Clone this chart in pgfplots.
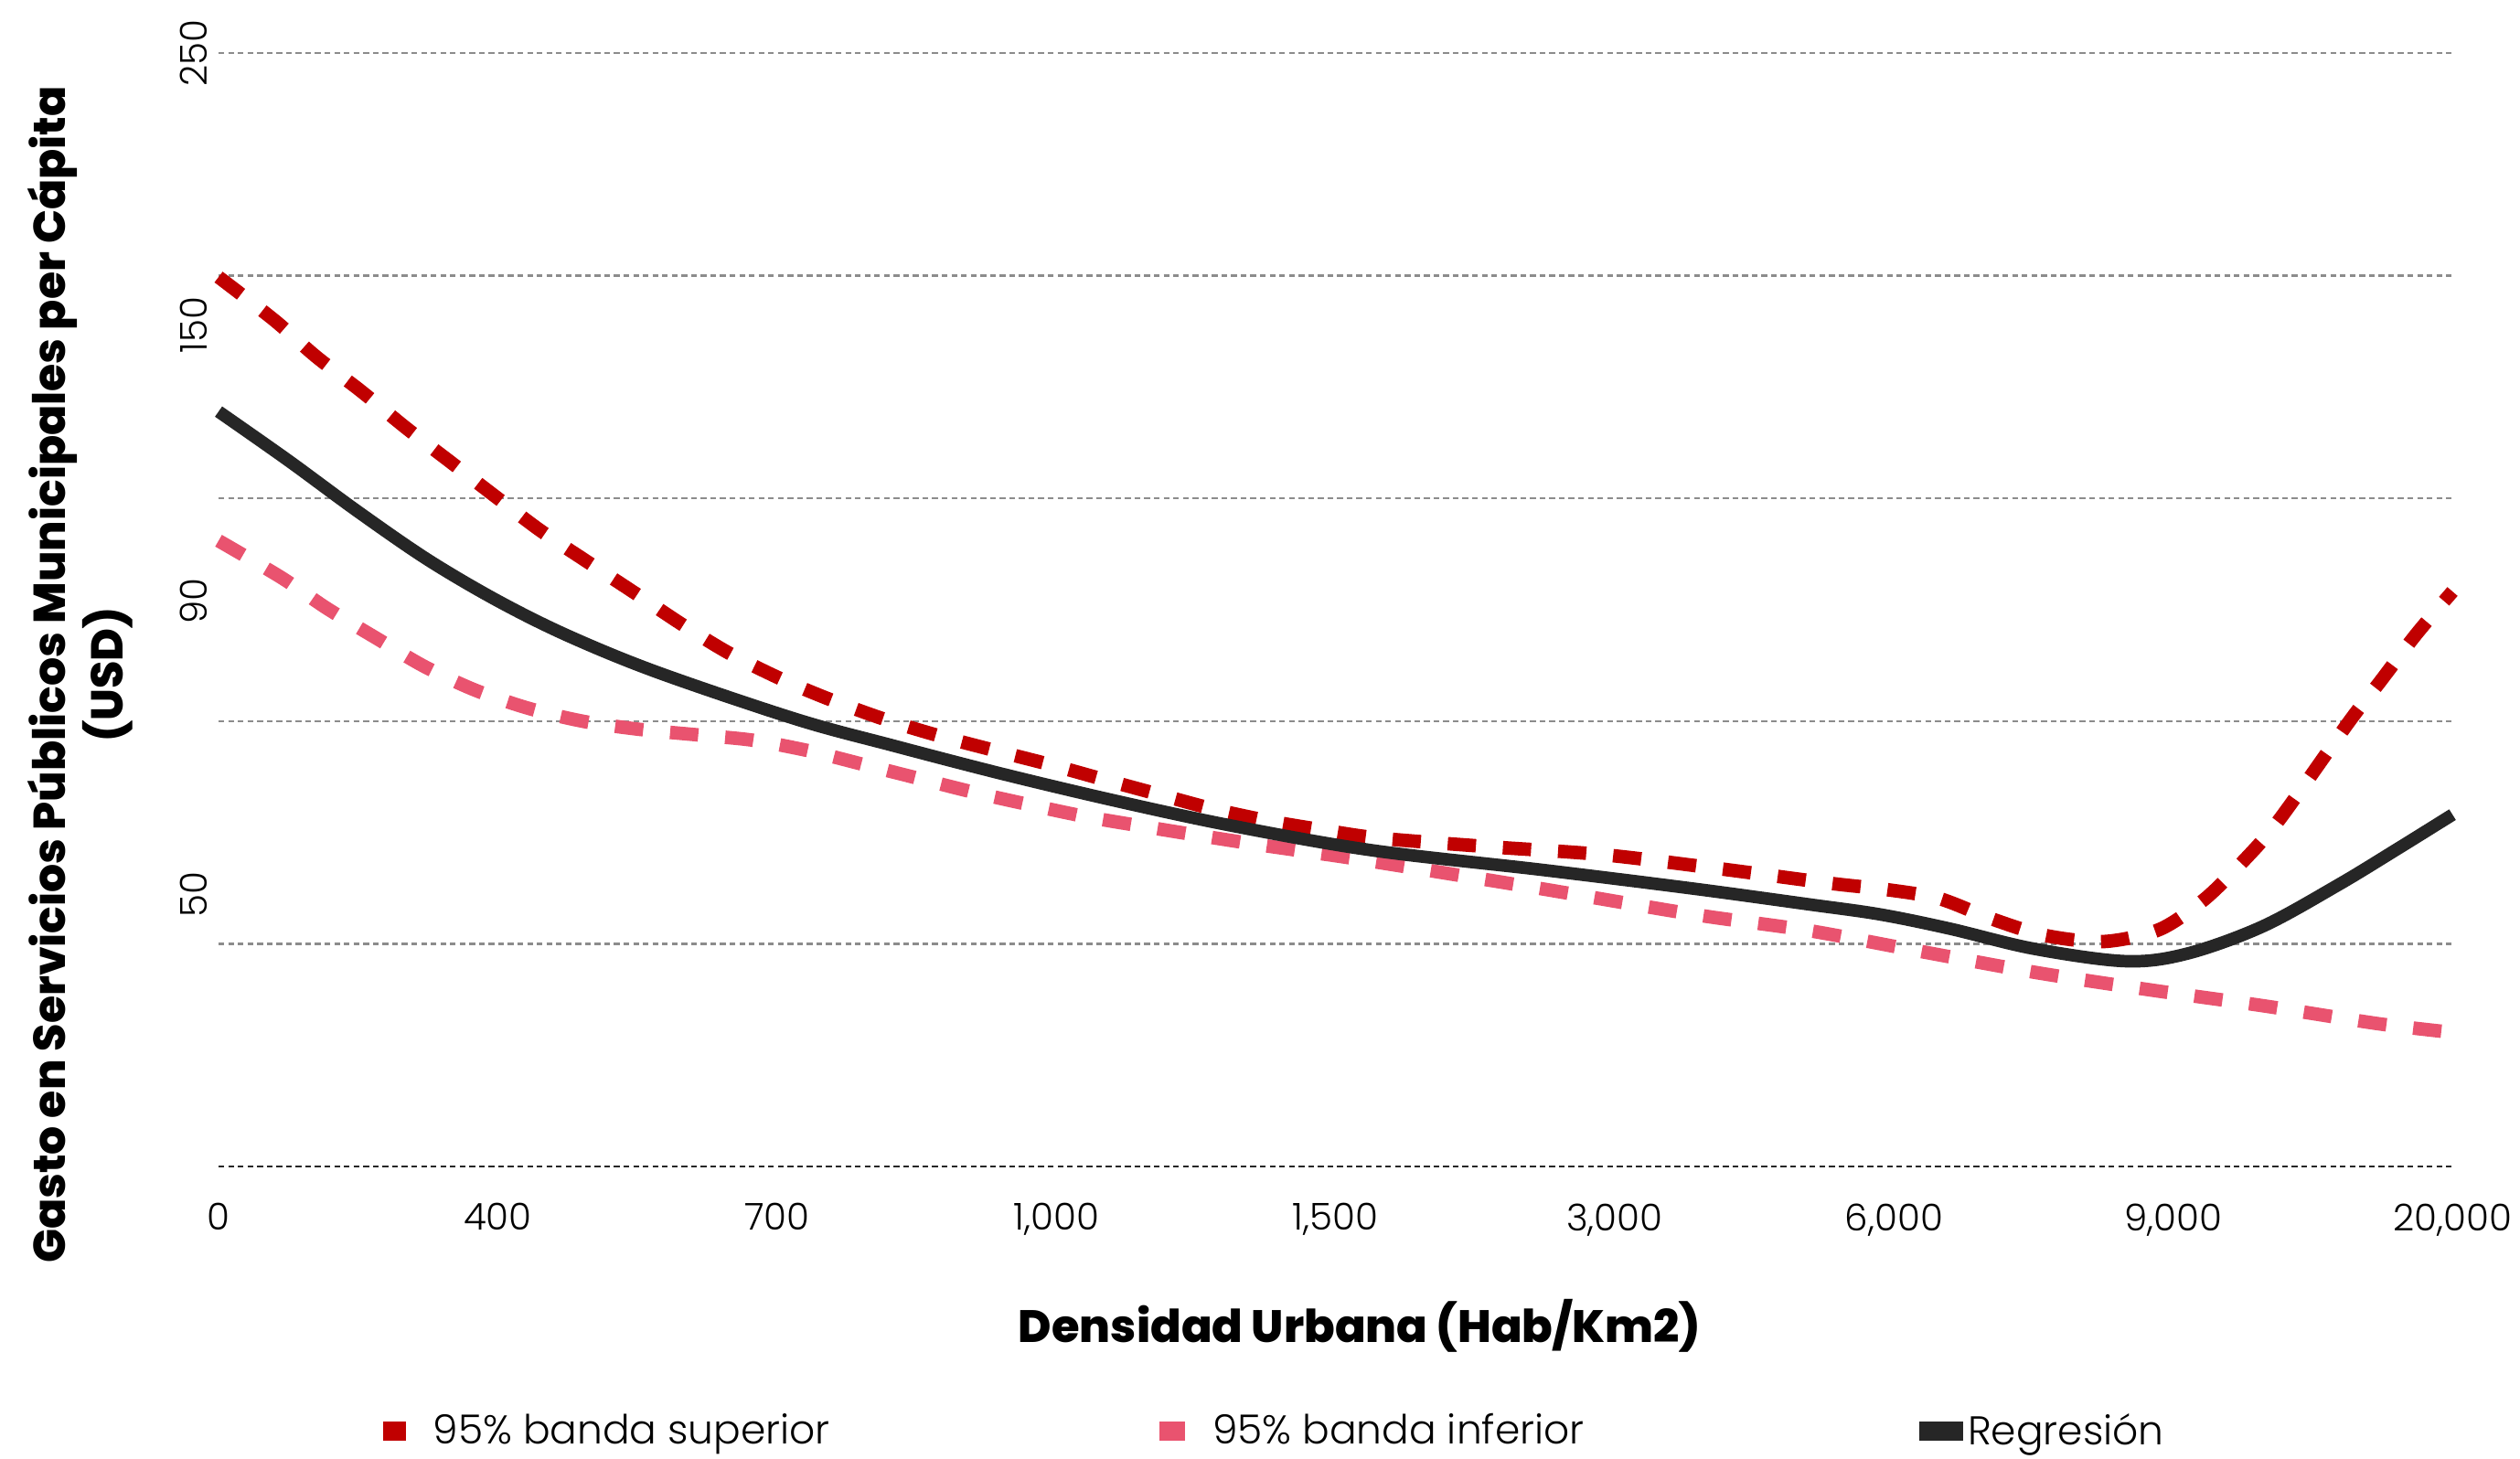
\documentclass[border=0pt]{standalone}
\usepackage{pgfplots}
\pgfplotsset{compat=1.18}
\usepackage{fontspec}
\setmainfont{Poppins}
\newfontfamily\lightfont{Poppins Light}
\newfontfamily\heavyfont{Poppins ExtraBold}
\usetikzlibrary{calc}

\definecolor{bandsup}{HTML}{C00000}
\definecolor{bandinf}{HTML}{E9536F}
\definecolor{regr}{HTML}{262626}
\definecolor{gridgray}{HTML}{8C8C8C}

\begin{document}
\begin{tikzpicture}
\begin{axis}[
  scale only axis,
  width=695pt, height=346.5pt,
  xmin=0, xmax=8, ymin=0, ymax=250,
  clip=false,
  axis line style={draw=none},
  major tick length=0pt,
  xtick={0,...,8},
  xticklabels={0,400,700,{1,000},{1,500},{3,000},{6,000},{9,000},{20,000}},
  ytick={61,127,189,249.9},
  yticklabels={50,90,150,250},
  xticklabel style={font=\lightfont\fontsize{11.5}{13}\selectfont, yshift=-8pt},
  yticklabel style={font=\lightfont\fontsize{11.5}{13}\selectfont, rotate=90, anchor=south},
  extra y ticks={50,100,150,200,250},
  extra y tick style={grid=major, yticklabel={}},
  major grid style={gridgray, line width=0.7pt, dash pattern=on 1.8pt off 1.2pt},
  xlabel={Densidad Urbana (Hab/Km2)},
  xlabel style={font=\heavyfont\fontsize{14.1}{16}\selectfont,
    at={(axis description cs:0.5108,-0.1429)}, anchor=center},
  ylabel={Gasto en Servicios Públicos Municipales per Cápita\\(USD)},
  ylabel style={font=\heavyfont\fontsize{13.9}{18}\selectfont, align=center,
    at={(axis description cs:-0.0619,0.4416)}, anchor=center},
  legend columns=3,
  legend cell align=left,
  legend style={draw=none, fill=none, inner xsep=0pt, inner ysep=0pt,
    nodes={inner sep=0pt},
    font=\lightfont\fontsize{12.5}{15}\selectfont,
    at={(axis description cs:0.0734,-0.238)}, anchor=west},
]

% 95% upper confidence band
\addplot[bandsup, line width=4.2pt, dash pattern=on 8.8pt off 8.4pt, smooth, tension=0.5,
  legend image code/.code={\fill[bandsup, draw=none, solid] (0pt,-3pt) rectangle (7pt,3pt);
    \path[draw=none] (0pt,0pt) -- (15.5pt,0pt);}]
coordinates {
 (0,199.7) (0.2,190.0) (0.35,181.8) (0.51,174.1) (0.67,165.9) (0.83,158.2)
 (0.99,150.5) (1.15,142.9) (1.32,135.8) (1.49,128.8) (1.66,121.7) (1.83,115.2)
 (2.02,109.3) (2.2,104.6) (2.39,100.3) (2.58,96.7) (2.78,93.4) (2.98,90.2)
 (3.17,86.9) (3.37,83.5) (3.56,80.3) (3.76,77.6) (3.96,75.5) (4.16,73.7)
 (4.55,71.8) (4.96,70.0) (5.37,66.9) (5.77,63.6) (5.97,62.2) (6.16,60.2)
 (6.35,55.6) (6.54,51.9) (6.75,50.5) (6.95,53.2) (7.11,59.9) (7.25,68.5)
 (7.38,77.9) (7.63,99.9) (7.74,108.8) (7.87,119.5) (8,129.1)
};
\addlegendentry{\makebox[226pt][l]{95\% banda superior}}

% 95% lower confidence band
\addplot[bandinf, line width=4.2pt, dash pattern=on 8.8pt off 8.4pt, smooth, tension=0.5,
  legend image code/.code={\fill[bandinf, draw=none, solid] (0pt,-3pt) rectangle (8pt,3pt);
    \path[draw=none] (0pt,0pt) -- (16.5pt,0pt);}]
coordinates {
 (0,140.5) (0.223,132.3) (0.391,125.2) (0.563,118.7) (0.739,112.2) (0.921,106.9)
 (1.114,102.8) (1.31,99.9) (1.514,98.1) (1.717,96.9) (1.914,95.7) (2.116,93.3)
 (2.313,90.2) (2.509,87.1) (2.699,84.1) (2.898,81.3) (3.102,78.6) (3.298,76.5)
 (3.494,74.5) (3.698,72.5) (3.896,70.7) (4.092,68.9) (4.696,62.8) (5.283,56.6)
 (5.692,53.0) (6.095,48.3) (6.504,43.6) (6.912,39.7) (7.321,36.1) (7.73,32.1)
 (8,30.1)
};
\addlegendentry{\makebox[220pt][l]{95\% banda inferior}}

% fitted regression
\addplot[regr, line width=3.9pt, smooth, tension=0.55,
  legend image code/.code={\fill[regr, draw=none, solid] (0pt,-3pt) rectangle (13.5pt,3pt);
    \path[draw=none] (0pt,0pt) -- (15pt,0pt);}]
coordinates {
 (0,169.5) (0.25,158.5) (0.5,147.0) (0.75,136.2) (1.0,127.0) (1.25,119.2)
 (1.57,111.0) (2.07,100.4) (2.41,94.6) (2.81,88.1) (3.22,82.0) (3.63,76.5)
 (4.13,71.0) (4.74,66.6) (5.28,62.4) (5.69,58.9) (5.95,56.6) (6.2,53.4)
 (6.5,48.9) (6.83,46.1) (7.05,47.8) (7.32,53.9) (7.59,63.2) (7.8,71.2) (8,79.0)
};
\addlegendentry{Regresión}

% baseline
\draw[black!85, line width=0.8pt, dash pattern=on 1.8pt off 1.2pt]
  (axis cs:0,0) -- (axis cs:8,0);
\coordinate (pbl) at (rel axis cs:0,0);
\end{axis}
\pgfresetboundingbox
\path ($(pbl)+(-68pt,-91pt)$) rectangle ($(pbl)+(716pt,363pt)$);
\end{tikzpicture}
\end{document}
